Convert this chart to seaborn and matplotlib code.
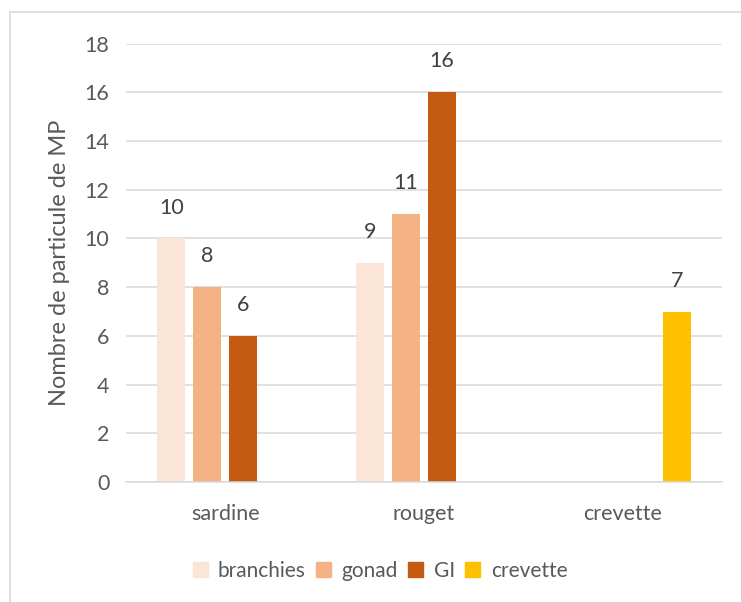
import numpy as np
import pandas as pd
import seaborn as sns
import matplotlib.pyplot as plt
from matplotlib.lines import Line2D

# values
categories = ['sardine', 'rouget', 'crevette']
series = ['branchies', 'gonad', 'GI', 'crevette']
branchies = [10, 9, np.nan]
gonad = [8, 11, np.nan]
gi = [6, 16, np.nan]
crevette = [np.nan, np.nan, 7]
colors = ['#FBE5D6', '#F4B183', '#C55A11', '#FFC000']

rows = []
for name, vals in zip(series, [branchies, gonad, gi, crevette]):
    for cat, v in zip(categories, vals):
        rows.append({'cat': cat, 'serie': name, 'val': v})
df = pd.DataFrame(rows)

sns.set_style('white')
plt.rcParams['font.family'] = ['Lato', 'DejaVu Sans']

fig = plt.figure(figsize=(7.41, 6.02), dpi=100)
ax = fig.add_axes([126/741, 1 - 482/602, (722 - 126)/741, (482 - 43.6)/602])

sns.barplot(data=df, x='cat', y='val', hue='serie', order=categories,
            hue_order=series, palette=colors, errorbar=None, width=0.725,
            gap=0.22, saturation=1, linewidth=0, ax=ax, legend=False)

txt = '#595959'
fs = 15.5
ax.set_ylim(0, 18)
ax.set_yticks(range(0, 19, 2))
ax.yaxis.grid(True, color='#D9D9D9', linewidth=1.1)
ax.set_axisbelow(True)
for s in ['top', 'right', 'left']:
    ax.spines[s].set_visible(False)
ax.spines['bottom'].set_color('#D9D9D9')
ax.spines['bottom'].set_linewidth(1.1)
ax.tick_params(axis='both', length=0, labelsize=fs, colors=txt)
ax.tick_params(axis='y', pad=12)
ax.tick_params(axis='x', pad=16)
ax.set_xlabel('')
ax.set_ylabel('Nombre de particule de MP', fontsize=17, color=txt)
ax.yaxis.set_label_coords(-0.094, 0.5)

for c in ax.containers:
    ax.bar_label(c, fmt='%g', padding=15, fontsize=fs, color='#404040')

handles = [plt.Rectangle((0, 0), 1, 1, color=col) for col in colors]
fig.legend(handles, series, loc='center', bbox_to_anchor=(380/741, 1 - 571/602),
           ncol=4, frameon=False, fontsize=15, handlelength=0.72,
           handleheight=0.72, handletextpad=0.5, columnspacing=0.5,
           labelcolor=txt)

# light chart border (left and top edges visible)
fig.add_artist(Line2D([10/741, 10/741], [0, 1 - 12/602], color='#D9D9D9', lw=1.2))
fig.add_artist(Line2D([10/741, 1], [1 - 12/602, 1 - 12/602], color='#D9D9D9', lw=1.2))

fig.savefig('out.png', dpi=100)
